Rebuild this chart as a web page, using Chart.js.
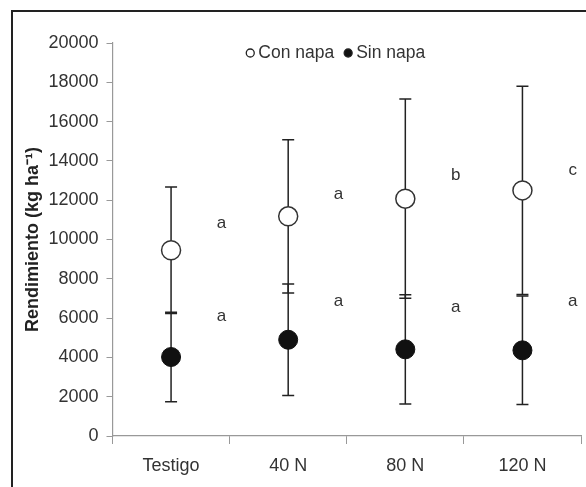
<!DOCTYPE html>
<html>
<head>
<meta charset="utf-8">
<script src="https://cdn.jsdelivr.net/npm/chart.js@4/dist/chart.umd.min.js"></script>
<style>
  html, body { margin: 0; padding: 0; background: #fff; overflow: hidden; }
  #wrap { position: relative; width: 586px; height: 487px; }
  #frame {
    position: absolute; left: 11px; top: 10px; width: 700px; height: 600px;
    border-left: 2px solid #222; border-top: 2px solid #222;
  }
  canvas { position: absolute; left: 0; top: 0; }
</style>
</head>
<body>
<div id="wrap">
  <div id="frame"></div>
  <canvas id="chart" width="586" height="487"></canvas>
</div>
<script>
const categories = ['Testigo', '40 N', '80 N', '120 N'];

const conNapa = [9450, 11180, 12080, 12500];
const conNapaErr = [3220, 3900, 5070, 5300];
const sinNapa = [4020, 4900, 4410, 4360];
const sinNapaErr = [2280, 2840, 2780, 2760];

// letras de significancia y su altura (kg ha-1)
const conLetters = ['a', 'a', 'b', 'c'];
const conLetterY = [10810, 12300, 13270, 13520];
const sinLetters = ['a', 'a', 'a', 'a'];
const sinLetterY = [6090, 6830, 6530, 6830];

const yTicks = [0, 2000, 4000, 6000, 8000, 10000, 12000, 14000, 16000, 18000, 20000];

const ink = '#222';
const axisGrey = '#999';
const fontFamily = '"Liberation Sans", Arial, sans-serif';

const errorBars = {
  id: 'errorBars',
  beforeDatasetsDraw(chart) {
    const ctx = chart.ctx;
    const y = chart.scales.y;
    ctx.save();
    ctx.strokeStyle = ink;
    ctx.lineWidth = 1.5;
    chart.data.datasets.forEach((ds, di) => {
      const meta = chart.getDatasetMeta(di);
      meta.data.forEach((pt, i) => {
        const v = ds.data[i];
        const e = ds.errors[i];
        const top = y.getPixelForValue(v + e);
        const bot = y.getPixelForValue(v - e);
        ctx.beginPath();
        ctx.moveTo(pt.x, top);
        ctx.lineTo(pt.x, bot);
        ctx.moveTo(pt.x - 6, top);
        ctx.lineTo(pt.x + 6, top);
        ctx.moveTo(pt.x - 6, bot);
        ctx.lineTo(pt.x + 6, bot);
        ctx.stroke();
      });
    });
    ctx.restore();
  }
};

const letters = {
  id: 'letters',
  afterDatasetsDraw(chart) {
    const ctx = chart.ctx;
    const x = chart.scales.x;
    const y = chart.scales.y;
    const step = x.getPixelForValue(1) - x.getPixelForValue(0);
    ctx.save();
    ctx.fillStyle = '#333';
    ctx.font = '17px ' + fontFamily;
    ctx.textAlign = 'center';
    ctx.textBaseline = 'middle';
    categories.forEach((c, i) => {
      const px = x.getPixelForValue(i) + step * 0.43;
      ctx.fillText(conLetters[i], px, y.getPixelForValue(conLetterY[i]));
      ctx.fillText(sinLetters[i], px, y.getPixelForValue(sinLetterY[i]));
    });
    ctx.restore();
  }
};

const innerLegend = {
  id: 'innerLegend',
  afterDraw(chart) {
    const ctx = chart.ctx;
    const area = chart.chartArea;
    const cy = area.top + 10;
    ctx.save();
    ctx.font = '17.5px ' + fontFamily;
    ctx.textBaseline = 'middle';
    ctx.textAlign = 'left';
    const items = chart.data.datasets;
    const gap = 10;
    const widths = items.map(ds => 12 + ctx.measureText(ds.label).width);
    const total = widths.reduce((a, b) => a + b, 0) + gap;
    let cx = (area.left + area.right) / 2 - total / 2 - 11;
    items.forEach((ds, i) => {
      ctx.beginPath();
      ctx.arc(cx + 4, cy, 4, 0, Math.PI * 2);
      ctx.fillStyle = ds.pointBackgroundColor;
      ctx.fill();
      ctx.lineWidth = 1.3;
      ctx.strokeStyle = ink;
      ctx.stroke();
      ctx.fillStyle = '#333';
      ctx.fillText(ds.label, cx + 12, cy);
      cx += widths[i] + gap;
    });
    ctx.restore();
  }
};

const chart = new Chart(document.getElementById('chart'), {
  type: 'line',
  data: {
    labels: categories,
    datasets: [
      {
        label: 'Con napa',
        data: conNapa,
        errors: conNapaErr,
        showLine: false,
        pointRadius: 9.5,
        pointHoverRadius: 9.5,
        pointBorderWidth: 1.5,
        pointBorderColor: '#333',
        pointBackgroundColor: '#ffffff'
      },
      {
        label: 'Sin napa',
        data: sinNapa,
        errors: sinNapaErr,
        showLine: false,
        pointRadius: 9.5,
        pointHoverRadius: 9.5,
        pointBorderWidth: 1,
        pointBorderColor: '#111',
        pointBackgroundColor: '#111111'
      }
    ]
  },
  options: {
    responsive: false,
    animation: false,
    layout: { autoPadding: false, padding: { top: 43, right: 5, bottom: 0, left: 20 } },
    scales: {
      x: {
        offset: true,
        afterFit: (s) => {
          s.height = 51;
          s.paddingLeft = 0;
          s.paddingRight = 0;
        },
        grid: {
          offset: true,
          drawOnChartArea: false,
          drawTicks: true,
          tickLength: 8,
          color: axisGrey
        },
        border: { display: true, color: axisGrey, width: 1.2 },
        ticks: {
          color: '#333',
          padding: 11,
          font: { size: 18, family: fontFamily }
        }
      },
      y: {
        min: 0,
        max: 20000,
        afterFit: (s) => { s.width = 92.5; },
        afterBuildTicks: (axis) => { axis.ticks = yTicks.map(v => ({ value: v })); },
        grid: {
          drawOnChartArea: false,
          drawTicks: true,
          tickLength: 6,
          color: axisGrey
        },
        border: { display: true, color: axisGrey, width: 1.2 },
        ticks: {
          color: '#333',
          padding: 8,
          font: { size: 18, family: fontFamily },
          callback: (v) => String(v)
        },
        title: {
          display: true,
          text: 'Rendimiento (kg ha⁻¹)',
          color: '#222',
          padding: { top: 2, bottom: 4 },
          font: { size: 18, weight: 'bold', family: fontFamily }
        }
      }
    },
    plugins: {
      legend: { display: false },
      tooltip: { enabled: false }
    }
  },
  plugins: [errorBars, letters, innerLegend]
});
</script>
</body>
</html>
